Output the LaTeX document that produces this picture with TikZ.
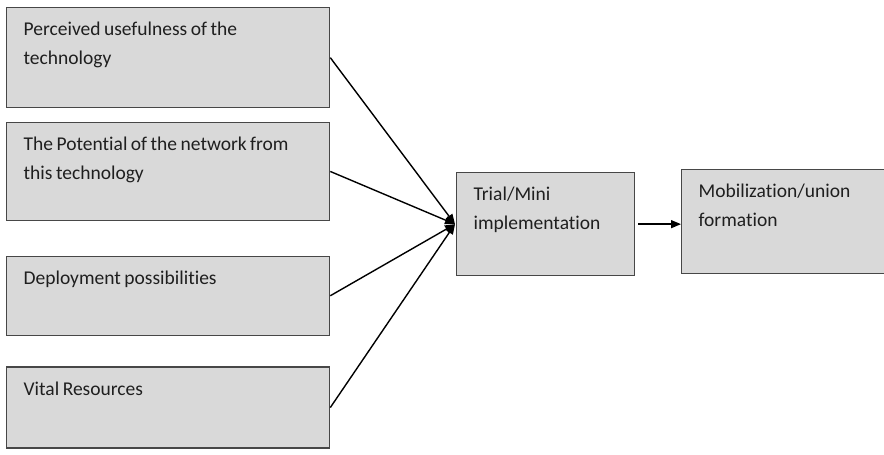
\documentclass[tikz,border=0pt]{standalone}
\usepackage{fontspec}
\setmainfont{Carlito}[Ligatures=NoCommon]
\usetikzlibrary{arrows.meta,positioning}
\tikzset{
  stagebox/.style={rectangle, draw=black!72, line width=1.3pt, fill=black!15,
                   align=left, inner xsep=17pt, inner ysep=0pt,
                   text height=28pt, text depth=#1,
                   font=\fontsize{19.5}{29}\selectfont, text=black!88,
                   execute at begin node={\spaceskip=3.5pt plus 1pt\relax}},
  factorbox/.style={stagebox=#1, text width=289pt},
  arr/.style={-{Triangle[length=10pt,width=8pt]}, line width=1.4pt, draw=black},
}

\begin{document}
\begin{tikzpicture}[x=1pt, y=-1pt]
  \useasboundingbox (0,0) rectangle (884,455);
  \node[factorbox=72pt, anchor=north west] (useful) at (6,7) {Perceived usefulness of the\\technology};
  \node[factorbox=70pt, below=13.5pt of useful] (network) {The Potential of the network from\\this technology};
  \node[factorbox=51pt, below=34.5pt of network] (deploy) {Deployment possibilities};
  \node[factorbox=53pt, below=30.5pt of deploy] (vital) {Vital Resources};
  \node[stagebox=75pt, text width=144pt, anchor=north west] (trial) at (456,172) {Trial/Mini\\implementation};
  \node[stagebox=76pt, text width=200pt, anchor=north west] (mobil) at (681,169) {Mobilization/union\\formation};
  % converging arrows
  \coordinate (join) at ([xshift=-1pt]trial.west);
  \foreach \src in {useful,network,deploy,vital}
    \draw[arr] (\src.east) -- (join);
  % next stage
  \draw[arr] ([xshift=3pt]trial.east) -- (mobil.west |- trial.east);
\end{tikzpicture}
\end{document}
